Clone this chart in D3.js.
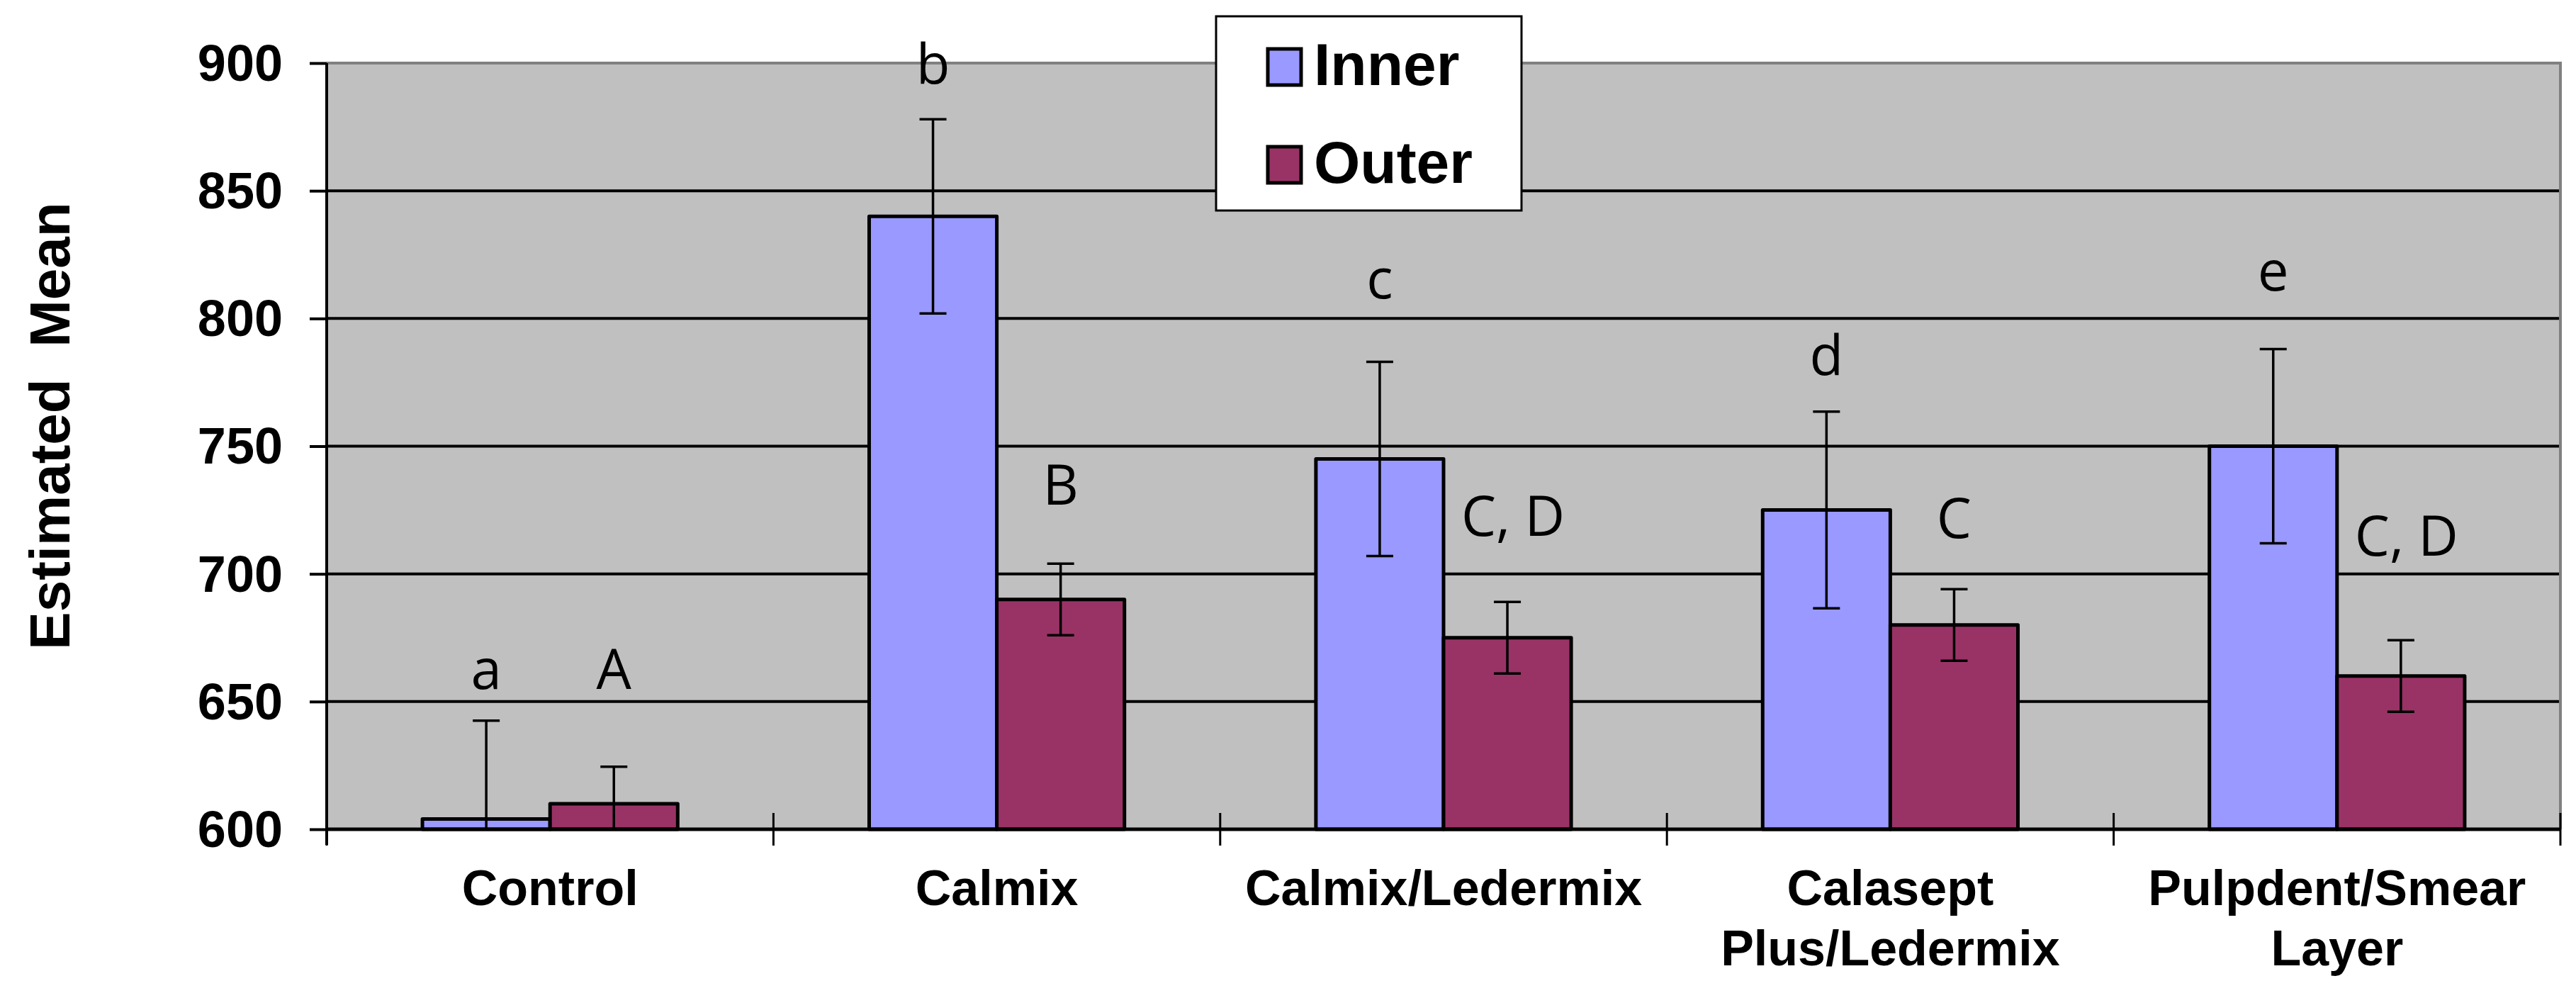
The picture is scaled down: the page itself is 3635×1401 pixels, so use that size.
<!DOCTYPE html>
<html>
<head>
<meta charset="utf-8">
<script src="https://cdn.jsdelivr.net/npm/d3@7"></script>
<style>
  html, body { margin: 0; padding: 0; background: #ffffff; }
  svg { display: block; }
</style>
</head>
<body>
<svg id="chart" width="3635" height="1401"></svg>
<script>
// ---------- data ----------
const categories = ["Control", "Calmix", "Calmix/Ledermix", "Calasept Plus/Ledermix", "Pulpdent/Smear Layer"];
const categoryLines = [["Control"], ["Calmix"], ["Calmix/Ledermix"], ["Calasept", "Plus/Ledermix"], ["Pulpdent/Smear", "Layer"]];
const seriesNames = ["Inner", "Outer"];
const innerValues = [604, 840, 745, 725, 750];
const outerValues = [610, 690, 675, 680, 660];
const innerErrors = [38.5, 38, 38, 38.5, 38];
const outerErrors = [14.5, 14, 14, 14, 14];
const innerLetters = ["a", "b", "c", "d", "e"];
const outerLetters = ["A", "B", "C, D", "C", "C, D"];
const innerLetterAt = [655, 892, 808, 778, 811];
const outerLetterAt = [655, 727, 715, 714, 707];
const yTicks = [600, 650, 700, 750, 800, 850, 900];
const yTitle = "Estimated  Mean";

// ---------- layout ----------
const plot = { left: 461, right: 3613, top: 89, bottom: 1170 };
const colors = { Inner: "#9999FF", Outer: "#993366" };
const svg = d3.select("#chart");

const y = d3.scaleLinear().domain([600, 900]).range([plot.bottom, plot.top]);
const x0 = d3.scaleBand().domain(categories).range([plot.left, plot.right]).paddingInner(0).paddingOuter(0);
const x1 = d3.scaleBand().domain(seriesNames).range([0, x0.bandwidth()]).paddingInner(0).paddingOuter(0.75);

const rows = categories.map((c, i) => ({
  cat: c,
  vals: [
    { s: "Inner", v: innerValues[i], e: innerErrors[i], l: innerLetters[i], la: innerLetterAt[i] },
    { s: "Outer", v: outerValues[i], e: outerErrors[i], l: outerLetters[i], la: outerLetterAt[i] }
  ]
}));

// plot background
svg.append("rect")
  .attr("x", plot.left).attr("y", plot.top)
  .attr("width", plot.right - plot.left).attr("height", plot.bottom - plot.top)
  .attr("fill", "#C0C0C0");

// grid lines
svg.append("g")
  .selectAll("line")
  .data(yTicks.filter(t => t > 600 && t < 900))
  .join("line")
  .attr("x1", plot.left).attr("x2", plot.right)
  .attr("y1", d => y(d)).attr("y2", d => y(d))
  .attr("stroke", "#000").attr("stroke-width", 4);

// top & right border (gray)
svg.append("path")
  .attr("d", `M${plot.left},${y(900)}H${plot.right}V${plot.bottom}`)
  .attr("fill", "none").attr("stroke", "#808080").attr("stroke-width", 4);

// clip for error bars
svg.append("clipPath").attr("id", "plotclip")
  .append("rect")
  .attr("x", plot.left).attr("y", 0)
  .attr("width", plot.right - plot.left).attr("height", plot.bottom);

// bars
const groups = svg.append("g").selectAll("g")
  .data(rows).join("g")
  .attr("transform", d => `translate(${x0(d.cat)},0)`);

groups.selectAll("rect")
  .data(d => d.vals).join("rect")
  .attr("x", d => x1(d.s))
  .attr("y", d => y(d.v))
  .attr("width", x1.bandwidth())
  .attr("height", d => y(600) - y(d.v))
  .attr("fill", d => colors[d.s])
  .attr("stroke", "#000").attr("stroke-width", 5)
  .attr("stroke-linejoin", "round");

// error bars
const eb = svg.append("g").attr("clip-path", "url(#plotclip)")
  .selectAll("g").data(rows).join("g")
  .attr("transform", d => `translate(${x0(d.cat)},0)`);

const capW = 38;
eb.selectAll("path")
  .data(d => d.vals).join("path")
  .attr("d", d => {
    const cx = x1(d.s) + x1.bandwidth() / 2;
    const yt = y(d.v + d.e), yb = y(d.v - d.e);
    let p = `M${cx},${yt}V${yb}M${cx - capW / 2},${yt}H${cx + capW / 2}`;
    if (d.v - d.e >= 600) p += `M${cx - capW / 2},${yb}H${cx + capW / 2}`;
    return p;
  })
  .attr("fill", "none").attr("stroke", "#000").attr("stroke-width", 3.5);

// significance letters
groups.selectAll("text")
  .data(d => d.vals).join("text")
  .attr("x", d => x1(d.s) + x1.bandwidth() / 2 + (d.l.length > 1 ? 8 : 0))
  .attr("y", d => y(d.la))
  .attr("text-anchor", "middle")
  .attr("font-family", "'Open Sans', 'Noto Sans', sans-serif")
  .attr("font-size", 78)
  .attr("fill", "#000")
  .text(d => d.l);

// y axis
const yAxis = svg.append("g")
  .attr("transform", `translate(${plot.left},0)`)
  .call(d3.axisLeft(y).tickValues(yTicks).tickSize(24).tickPadding(38).tickFormat(d3.format("d")));
yAxis.select(".domain").attr("stroke", "#000").attr("stroke-width", 4)
  .attr("d", `M0,${plot.top}V${plot.bottom + 22}`);
yAxis.selectAll(".tick line").attr("stroke", "#000").attr("stroke-width", 4);
yAxis.selectAll(".tick text")
  .attr("font-family", "'Liberation Sans', Arial, sans-serif")
  .attr("font-weight", "bold")
  .attr("font-size", 72)
  .attr("fill", "#000")
  .attr("dy", "0.34em");

// x axis
const xBoundaries = categories.map(c => x0(c)).concat([plot.right]);
svg.append("line")
  .attr("x1", plot.left).attr("x2", plot.right)
  .attr("y1", plot.bottom).attr("y2", plot.bottom)
  .attr("stroke", "#000").attr("stroke-width", 5);
svg.append("g").selectAll("line")
  .data(xBoundaries).join("line")
  .attr("x1", d => d).attr("x2", d => d)
  .attr("y1", plot.bottom - 23).attr("y2", plot.bottom + 23)
  .attr("stroke", "#000").attr("stroke-width", 3);

// category labels
const catLabels = svg.append("g").selectAll("text")
  .data(categories).join("text")
  .attr("x", d => x0(d) + x0.bandwidth() / 2)
  .attr("y", 1277)
  .attr("text-anchor", "middle")
  .attr("font-family", "'Liberation Sans', Arial, sans-serif")
  .attr("font-weight", "bold")
  .attr("font-size", 70)
  .attr("fill", "#000");
catLabels.selectAll("tspan")
  .data((d, i) => categoryLines[i]).join("tspan")
  .attr("x", function () { return d3.select(this.parentNode).attr("x"); })
  .attr("dy", (d, i) => i === 0 ? 0 : 85)
  .text(d => d);

// y title
svg.append("text")
  .attr("transform", `translate(98,601) rotate(-90)`)
  .attr("text-anchor", "middle")
  .attr("font-family", "'Liberation Sans', Arial, sans-serif")
  .attr("font-weight", "bold")
  .attr("font-size", 80)
  .style("white-space", "pre")
  .attr("fill", "#000")
  .text(yTitle);

// legend
const lg = svg.append("g").attr("transform", "translate(1716,23)");
lg.append("rect")
  .attr("width", 431).attr("height", 274)
  .attr("fill", "#fff").attr("stroke", "#000").attr("stroke-width", 3);
const li = lg.selectAll("g.item").data(seriesNames).join("g")
  .attr("class", "item")
  .attr("transform", (d, i) => `translate(0,${i * 138})`);
li.append("rect")
  .attr("x", 73).attr("y", 46).attr("width", 47).attr("height", 51)
  .attr("fill", d => colors[d]).attr("stroke", "#000").attr("stroke-width", 5);
li.append("text")
  .attr("x", 138).attr("y", 97)
  .attr("font-family", "'Liberation Sans', Arial, sans-serif")
  .attr("font-weight", "bold")
  .attr("font-size", 84)
  .attr("fill", "#000")
  .text(d => d);
</script>
</body>
</html>
